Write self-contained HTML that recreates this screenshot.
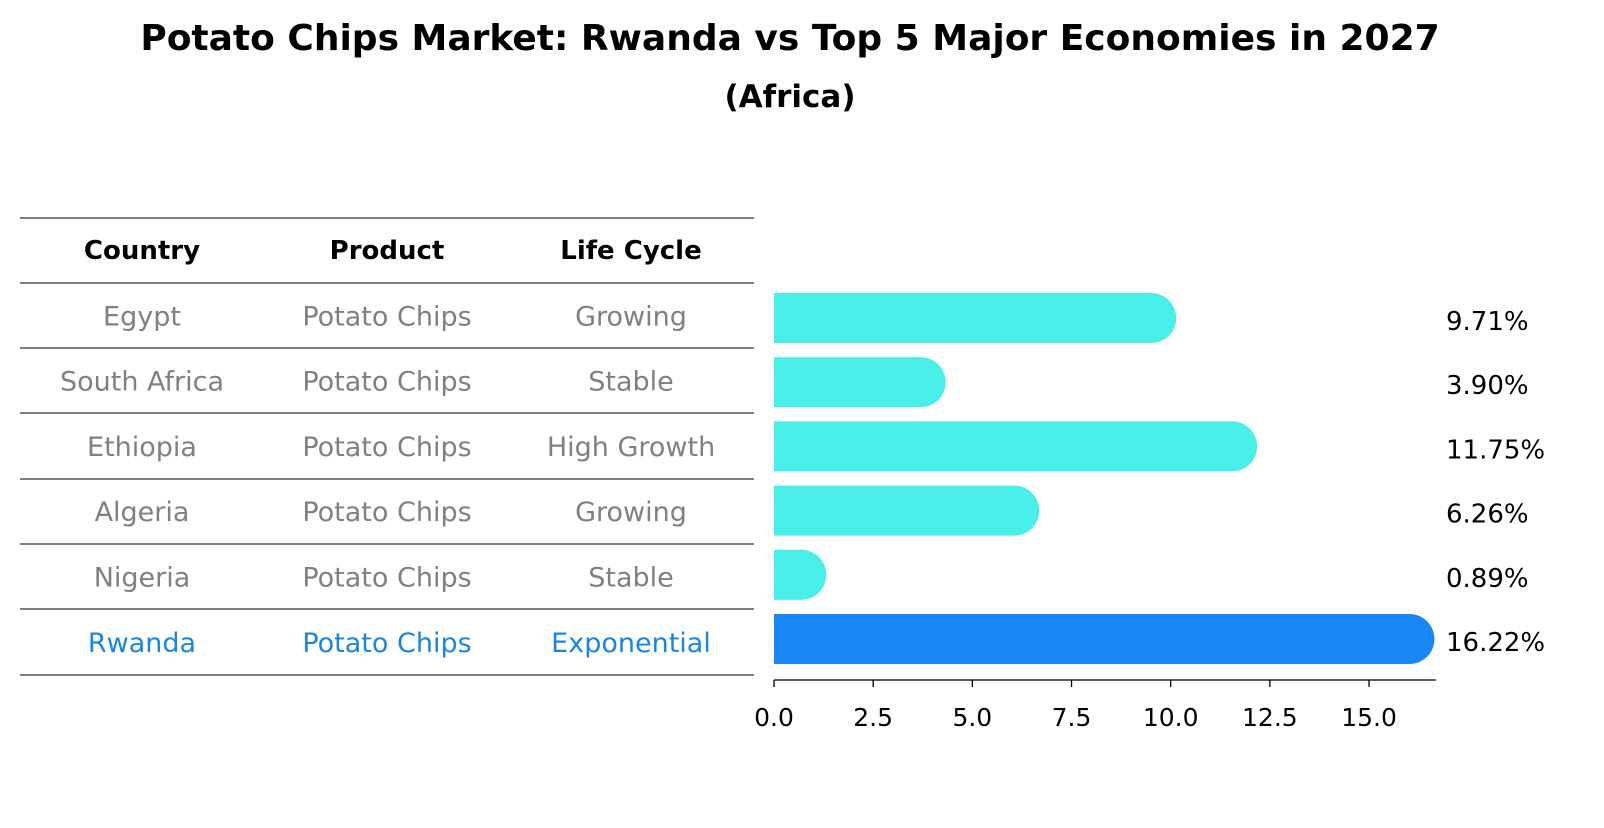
<!DOCTYPE html>
<html><head><meta charset="utf-8"><style>
body{margin:0;background:#fff;font-family:"Liberation Sans","DejaVu Sans",sans-serif;}
svg text{font-family:"DejaVu Sans","Liberation Sans",sans-serif;}
</style></head><body>
<svg width="1604" height="823">
<text x="790" y="50" text-anchor="middle" font-size="36" font-weight="bold">Potato Chips Market: Rwanda vs Top 5 Major Economies in 2027</text>
<text x="790" y="107" text-anchor="middle" font-size="31" font-weight="bold">(Africa)</text>
<g id="table"></g>
<g id="bars"></g>
<g id="axis"></g>
</svg>
<script>
const countries=["Egypt","South Africa","Ethiopia","Algeria","Nigeria","Rwanda"];
const products=["Potato Chips","Potato Chips","Potato Chips","Potato Chips","Potato Chips","Potato Chips"];
const lifeCycles=["Growing","Stable","High Growth","Growing","Stable","Exponential"];
const values=[9.71,3.90,11.75,6.26,0.89,16.22];
const valueLabels=["9.71%","3.90%","11.75%","6.26%","0.89%","16.22%"];
const ticks=[0,2.5,5,7.5,10,12.5,15];
const tickLabels=["0.0","2.5","5.0","7.5","10.0","12.5","15.0"];
const NS="http://www.w3.org/2000/svg";
function mk(t,a,p){const e=document.createElementNS(NS,t);for(const k in a)e.setAttribute(k,a[k]);p.appendChild(e);return e;}
const x=v=>774+v*39.67;
const rowY=i=>318+i*64.2;
const tbl=document.getElementById('table'),bars=document.getElementById('bars'),ax=document.getElementById('axis');
const lines=[218,283,348,413,479,544,609,675];
lines.forEach(y=>{const l=mk('line',{x1:20,x2:754,y1:y,y2:y,stroke:'#000','stroke-width':1},tbl);

});
const cols=[142,387,631];
["Country","Product","Life Cycle"].forEach((h,j)=>{const t=mk('text',{x:cols[j],y:259,'text-anchor':'middle','font-size':26,'font-weight':'bold'},tbl);t.textContent=h;

});
countries.forEach((c,i)=>{
 const col=i===countries.length-1?'#1a86e0':'#808080';
 [c,products[i],lifeCycles[i]].forEach((s,j)=>{const t=mk('text',{x:cols[j],y:(250+65.3*(i+1))+10,'text-anchor':'middle','font-size':27,fill:col},tbl);t.textContent=s;
 
 });
 const fill=i===countries.length-1?'#1a86f5':'#4aeee8';
 const cy=rowY(i),ex=x(values[i]);
 const r=mk('rect',{x:x(0),y:cy-25,width:Math.max(0,ex-8-x(0)),height:50,fill:fill},bars);
 
 
 const cc=mk('circle',{cx:Math.max(x(0)+25,ex-8),cy:cy,r:25,fill:fill},bars);
 
 
 const vt=mk('text',{x:1446,y:cy+12,'font-size':26},bars);vt.textContent=valueLabels[i];
 
 
});
const al=mk('line',{x1:774,x2:1436,y1:680,y2:680,stroke:'#000','stroke-width':1.3},ax);


ticks.forEach((v,i)=>{const tl=mk('line',{x1:x(v),x2:x(v),y1:680,y2:687,stroke:'#000','stroke-width':1.3},ax);


const t=mk('text',{x:x(v),y:726,'text-anchor':'middle','font-size':25},ax);t.textContent=tickLabels[i];

});
</script>
</body></html>
